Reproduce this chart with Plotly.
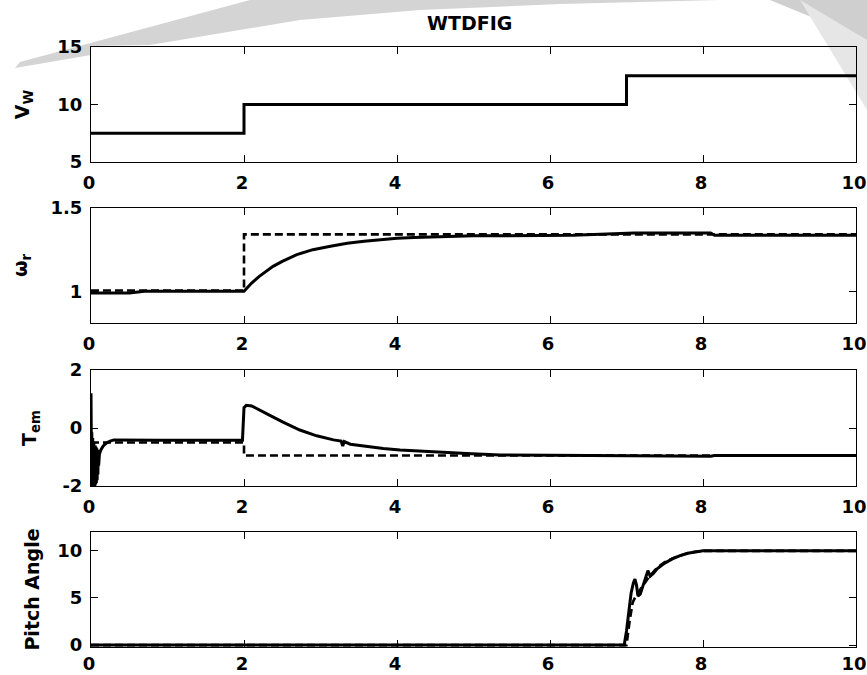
import plotly.graph_objects as go

# ---------------- data ----------------
# Wind speed V_W
t_vw = [0, 2, 2, 7, 7, 10]
vw = [7.5, 7.5, 10, 10, 12.5, 12.5]

# Rotor speed omega_r
t_wr_ref = [0, 2, 2, 10]
wr_ref = [1.005, 1.005, 1.342, 1.342]
t_wr = [0, 0.5, 0.7, 2.0, 2.1, 2.2, 2.38, 2.5, 2.69, 2.9, 3.13, 3.35, 3.57, 3.79, 4.0,
        4.22, 4.5, 5.0, 6.3, 7.1, 8.1, 8.15, 10]
wr = [0.99, 0.99, 1.0, 1.0, 1.05, 1.09, 1.15, 1.18, 1.22, 1.25, 1.27, 1.288, 1.30, 1.31, 1.318,
      1.323, 1.328, 1.333, 1.336, 1.35, 1.35, 1.336, 1.336]

# Electromagnetic torque T_em
t_tem_ref = [0, 2, 2, 10]
tem_ref = [-0.5, -0.5, -0.95, -0.95]
t_tem = [0.000, 0.002, 0.004, 0.006, 0.008, 0.010, 0.013, 0.016, 0.019, 0.022, 0.025, 0.029,
         0.033, 0.037, 0.041, 0.045, 0.050, 0.055, 0.060, 0.065, 0.070, 0.075, 0.080, 0.085,
         0.090, 0.095, 0.100, 0.110, 0.130, 0.160, 0.200, 0.250, 0.300, 0.850, 0.900, 1.98,
         2.00, 2.03, 2.10, 2.30, 2.51, 2.73, 2.95, 3.17, 3.27, 3.29, 3.31, 3.39, 3.60, 3.82,
         4.04, 4.47, 4.91, 5.35, 5.78, 6.2, 7.05, 8.1, 8.15, 10]
tem = [1.2, 0.3, -2.0, -0.05, -2.0, -0.15, -2.0, -0.25, -2.0, -0.35, -2.0, -0.45,
       -2.0, -0.5, -2.0, -0.55, -2.0, -0.6, -1.95, -0.65, -1.9, -0.7, -1.8, -0.75,
       -1.6, -0.8, -1.3, -0.9, -0.75, -0.62, -0.52, -0.45, -0.41, -0.40, -0.42, -0.42,
       0.7, 0.78, 0.76, 0.49, 0.2, -0.07, -0.27, -0.41, -0.45, -0.62, -0.47, -0.56, -0.64, -0.71,
       -0.76, -0.83, -0.88, -0.93, -0.94, -0.95, -0.95, -0.97, -0.95, -0.95]

# Pitch angle
t_pa_ref = [0, 7.0, 7.04, 7.08, 7.12, 7.18, 7.25, 7.3, 7.4, 7.5, 7.6, 7.7, 7.8, 7.9, 8.0, 10]
pa_ref = [0, 0, 2.5, 4.5, 5.2, 5.9, 6.8, 7.3, 8.2, 8.8, 9.2, 9.5, 9.75, 9.9, 10.0, 10.0]
t_pa = [0, 6.97, 7.0, 7.03, 7.06, 7.09, 7.11, 7.13, 7.15, 7.18, 7.22, 7.26, 7.28, 7.31,
        7.35, 7.4, 7.5, 7.6, 7.7, 7.8, 7.9, 8.0, 10]
pa = [0, 0, 1.5, 3.5, 5.5, 6.6, 7.0, 6.4, 5.2, 5.4, 6.5, 7.6, 7.9, 7.3,
      7.6, 8.1, 8.7, 9.15, 9.5, 9.75, 9.9, 10.0, 10.0]

x_ticks = [0, 2, 4, 6, 8, 10]

# ---------------- figure ----------------
W, H = 867, 675
ML, MR, MT, MB = 91, 11, 47, 28
PW, PH = W - ML - MR, H - MT - MB


def yd(top_px, bot_px):
    return [(H - MB - bot_px) / PH, (H - MB - top_px) / PH]


def px(x):
    return (x - ML) / PW


def py(y):
    return (H - MB - y) / PH


domains = [yd(47, 162), yd(208, 323), yd(370, 486), yd(532, 647)]

FONT = "DejaVu Sans"
tickfont = dict(family=FONT, size=18, color="black", weight="bold")
titlefont = dict(family=FONT, size=19, color="black", weight="bold")

fig = go.Figure()

solid = dict(color="black", width=3)
dashed = dict(color="black", width=2.6, dash="8px,4px")

series = [
    [(t_vw, vw, solid)],
    [(t_wr, wr, solid), (t_wr_ref, wr_ref, dashed)],
    [(t_tem, tem, solid), (t_tem_ref, tem_ref, dashed)],
    [(t_pa, pa, solid), (t_pa_ref, pa_ref, dashed)],
]
for i, group in enumerate(series):
    sfx = "" if i == 0 else str(i + 1)
    for (xx, yy, ln) in group:
        fig.add_trace(go.Scatter(x=xx, y=yy, mode="lines", line=ln, showlegend=False,
                                 xaxis="x" + sfx, yaxis="y" + sfx))

ytitles = ["V<sub>W</sub>", "ω<sub>r</sub>", "T<sub>em</sub>", "Pitch Angle"]
yranges = [[5, 15], [0.81, 1.5], [-2, 2], [-0.2, 12]]
yticks = [[5, 10, 15], [1, 1.5], [-2, 0, 2], [0, 5, 10]]
ystand = [22, 17, 20, 12]
xstand = [4, 4, 4, 0]

axcommon = dict(showgrid=False, zeroline=False, showline=True, linecolor="black", linewidth=1,
                mirror="ticks", ticks="inside", ticklen=7, tickcolor="black", tickwidth=1,
                tickfont=tickfont, ticklabeloverflow="allow", automargin=False)

lay = {}
for i in range(4):
    sfx = "" if i == 0 else str(i + 1)
    lay["xaxis" + sfx] = dict(axcommon, domain=[0, 1], range=[0, 10], tickmode="array",
                              tickvals=x_ticks, ticktext=[str(v) for v in x_ticks],
                              anchor="y" + sfx, ticklabelstandoff=xstand[i], ticklabelshift=-2)
    lay["yaxis" + sfx] = dict(axcommon, domain=domains[i], range=yranges[i], tickmode="array",
                              tickvals=yticks[i], ticktext=[str(v) for v in yticks[i]],
                              anchor="x" + sfx, ticklabelstandoff=4,
                              title=dict(text=ytitles[i], font=titlefont, standoff=ystand[i]))

# gray watermark swoosh (decorative)
sw_left = [(15, 68), (91, 55), (91, 46), (150, 45), (300, 20), (420, 10), (560, 4), (720, 0),
           (250, 0), (20, 62)]
sw_right = [(770, 0), (867, 0), (867, 40)]
sw_right2 = [(800, 0), (867, 40), (867, 110)]


def path(pts):
    return "M " + " L ".join(f"{px(a):.5f},{py(b):.5f}" for a, b in pts) + " Z"


shapes = [
    dict(type="path", xref="paper", yref="paper", path=path(sw_left), fillcolor="#d4d4d4",
         line=dict(width=0), layer="below"),
    dict(type="path", xref="paper", yref="paper", path=path(sw_right), fillcolor="#cfcfcf",
         line=dict(width=0), layer="below"),
    dict(type="path", xref="paper", yref="paper", path=path(sw_right2), fillcolor="#e6e6e6",
         line=dict(width=0), layer="below"),
]

fig.update_layout(
    width=W, height=H,
    margin=dict(l=ML, r=MR, t=MT, b=MB, autoexpand=False),
    paper_bgcolor="white", plot_bgcolor="white",
    shapes=shapes,
    annotations=[dict(text="WTDFIG", x=px(469), y=py(23), xref="paper", yref="paper",
                      xanchor="center", yanchor="middle",
                      showarrow=False, font=dict(family=FONT, size=19, color="black", weight="bold"))],
    **lay,
)

fig.write_html("out.html", config={"displayModeBar": False},
               post_script="document.body.style.margin='0px';document.body.style.overflow='hidden';")
